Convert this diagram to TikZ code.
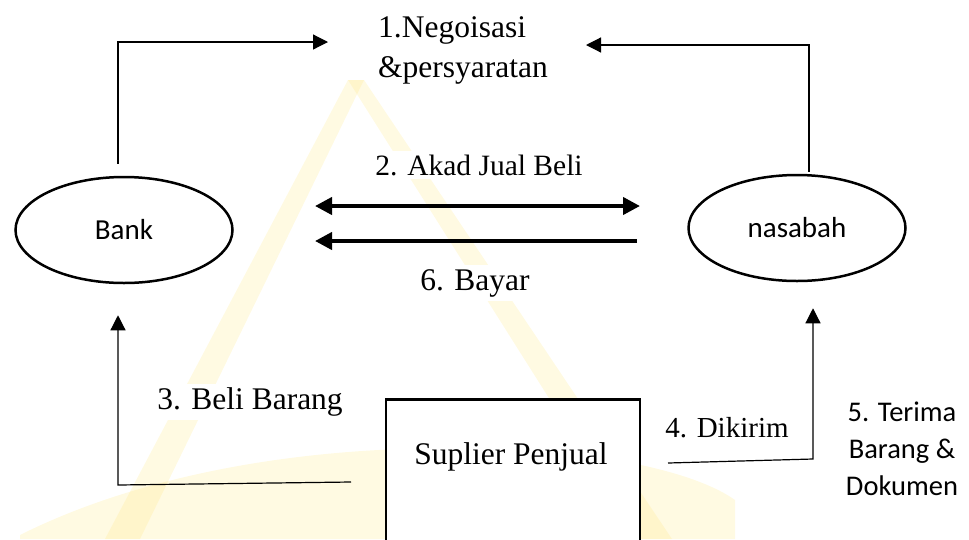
\documentclass[tikz,border=0pt]{standalone}
\usepackage{fontspec}
\setmainfont{Liberation Serif}
\newfontfamily\calibrifont{Carlito}
\usetikzlibrary{arrows.meta,shapes.geometric}
\definecolor{wmark}{RGB}{255,228,110}

\begin{document}
\begin{tikzpicture}[x=1pt,y=-1pt,
	actor/.style={draw,ellipse,line width=2.5pt,minimum width=217pt,minimum height=106pt,inner sep=0pt,font=\calibrifont\fontsize{29}{35}\selectfont},
	lbl/.style={fill=white,inner sep=4pt,font=\fontsize{31.5}{40}\selectfont,align=left},
	flow/.style={line width=1.2pt,-{Triangle[length=15pt,width=15pt]}},
	bigflow/.style={line width=4pt,-{Triangle[length=17pt,width=17pt]}},
	bothflow/.style={line width=4pt,{Triangle[length=17pt,width=17pt]}-{Triangle[length=17pt,width=17pt]}}]
	\useasboundingbox (0,0) rectangle (969,539);
	% watermark behind everything
	\begin{scope}[opacity=0.2]
		\fill[wmark] (348,80) -- (364,80) -- (140,539) -- (105,539) -- cycle;
		\fill[wmark] (348,80) -- (364,80) -- (672,539) -- (638,539) -- cycle;
		\fill[wmark] (20,535) .. controls (150,470) and (330,440) .. (520,450)
			.. controls (620,455) and (700,475) .. (735,500) -- (735,539) -- (20,539) -- cycle;
	\end{scope}
	% parties
	\node[actor] (bank) at (124,230) {Bank};
	\node[actor] (nasabah) at (797,228) {nasabah};
	\node[draw,fill=white,line width=2.5pt,minimum width=254pt,minimum height=170pt,anchor=north] (suplier) at (513,398) {};
	\node[lbl,fill=none] (suplierlbl) at (511,457) {Suplier Penjual};
	% labels
	\node[lbl] (nego) at (463,50) {1.Negoisasi\\\&persyaratan};
	\node[lbl,font=\fontsize{29.5}{36}\selectfont] (akad) at (479,165) {2. Akad Jual Beli};
	\node[lbl] (bayar) at (475,283) {6. Bayar};
	\node[lbl] (beli) at (250,402) {3. Beli Barang};
	\node[lbl,font=\fontsize{29}{36}\selectfont] (dikirim) at (727,428) {4. Dikirim};
	\node[lbl,align=center,font=\calibrifont\fontsize{28.5}{37}\selectfont] (terima) at (902,449) {5. Terima\\Barang \&\\Dokumen};
	% free ends
	\coordinate (negoL) at (328,42);
	\coordinate (negoR) at (586,45);
	\coordinate (akadL) at (315,206);
	\coordinate (akadR) at (640,206);
	\coordinate (bayarS) at (637,241);
	\coordinate (bayarE) at (315,241);
	\coordinate (beliS) at (351,482);
	\coordinate (kirimS) at (668,463);
	% flows
	\draw[flow] ([xshift=-6pt,yshift=12pt]bank.north) |- (negoL);
	\draw[flow] ([xshift=12pt,yshift=2pt]nasabah.north) |- (negoR);
	\draw[bothflow] (akadL) -- (akadR);
	\draw[bigflow] (bayarS) -- (bayarE);
	\draw[flow] (beliS) -- (118,485) -- ([xshift=-6pt,yshift=-31pt]bank.south);
	\draw[flow] (kirimS) -- (813,459) -- ([xshift=16pt,yshift=-26pt]nasabah.south);
\end{tikzpicture}
\end{document}
